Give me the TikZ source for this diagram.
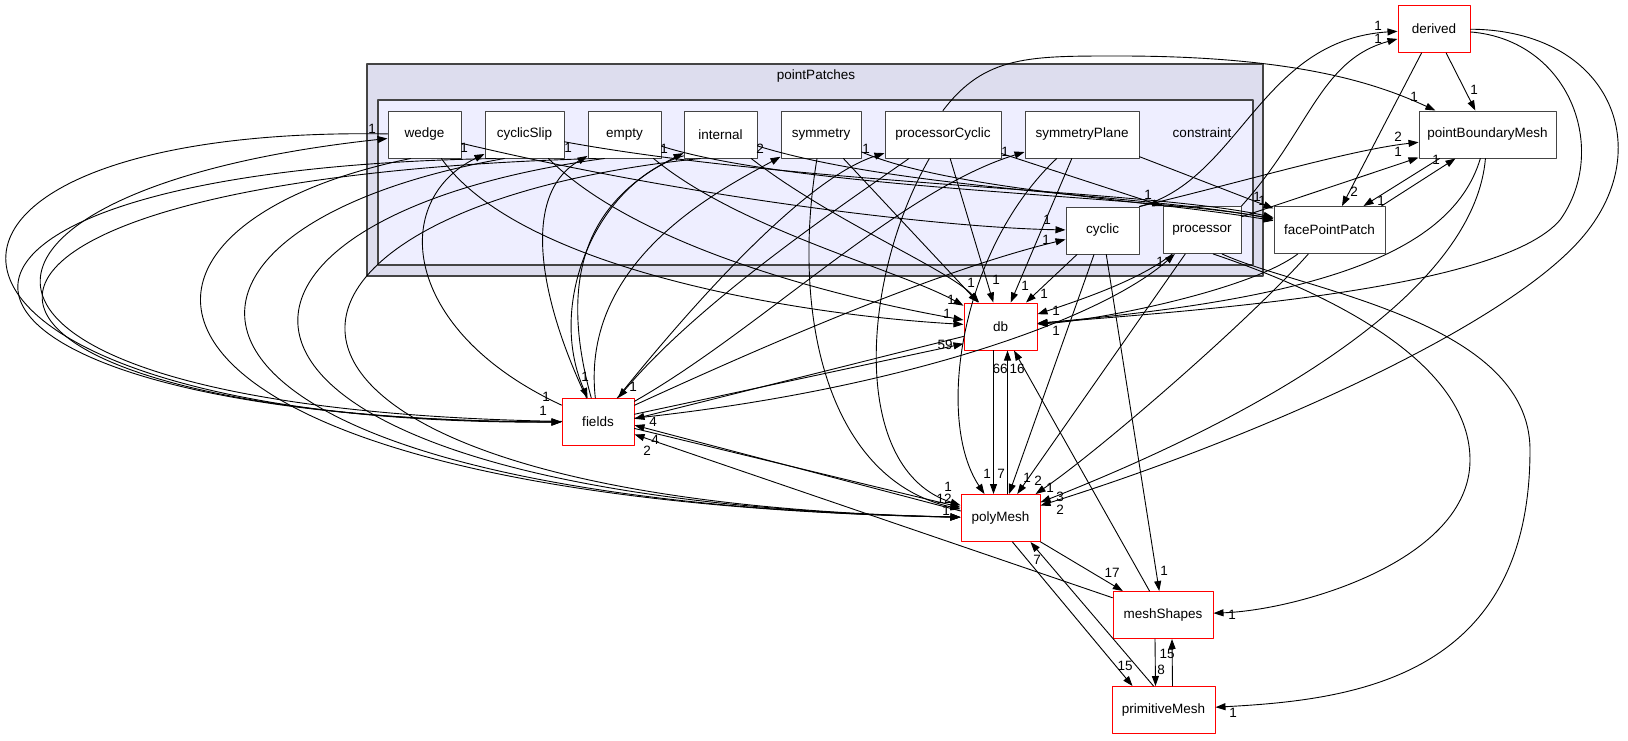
\documentclass[tikz,border=0pt]{standalone}
\usepackage{fontspec}
\setmainfont{Liberation Sans}
\usepackage{tikz}
\usetikzlibrary{arrows.meta}
\definecolor{outerfill}{HTML}{DDDDEE}
\definecolor{innerfill}{HTML}{EEEEFF}
\definecolor{frame}{HTML}{444444}
\newcommand{\dfont}{\fontsize{13.5}{16}\selectfont}
\tikzset{
  dirbox/.style={draw=frame, fill=white, line width=1pt,
    minimum height=47pt, inner sep=0pt, font=\dfont},
  extbox/.style={dirbox, draw=red},
  dep/.style={-{Triangle[length=10pt,width=7pt]}, line width=0.9pt},
  num/.style={font=\dfont, inner sep=0pt}
}

\begin{document}
\begin{tikzpicture}[x=1pt, y=-1pt, line cap=round, line join=round]
  \useasboundingbox (0,0) rectangle (1628,740);

  % clusters
  \draw[draw=frame, fill=outerfill, line width=1.4pt] (367,64) rectangle (1263,276);
  \node[num] (pp) at (816,76) {pointPatches};
  \draw[draw=frame, fill=innerfill, line width=1.2pt] (378,100) rectangle (1253,265);
  \node[num] (cons) at (1202,133) {constraint};

  % directories inside constraint
  \node[dirbox, minimum width=73pt] (wedge) at (424.5,134.5) {wedge};
  \node[dirbox, minimum width=79pt] (cyclicSlip) at (524.5,134.5) {cyclicSlip};
  \node[dirbox, minimum width=73pt] (empty) at (624.5,134.5) {empty};
  \node[dirbox, minimum width=73pt] (internal) at (720.5,134.5) {internal};
  \node[dirbox, minimum width=80pt] (symmetry) at (821,134.5) {symmetry};
  \node[dirbox, minimum width=116pt] (processorCyclic) at (943,134.5) {processorCyclic};
  \node[dirbox, minimum width=114pt] (symmetryPlane) at (1082,134.5) {symmetryPlane};
  \node[dirbox, minimum width=73pt] (cyclic) at (1102.5,230.5) {cyclic};
  \node[dirbox, minimum width=78pt] (processor) at (1202,230) {processor};

  % other directories
  \node[dirbox, minimum width=111pt] (facePointPatch) at (1329.5,230) {facePointPatch};
  \node[dirbox, minimum width=137pt] (pointBoundaryMesh) at (1487.5,134.5) {pointBoundaryMesh};
  \node[extbox, minimum width=72pt] (derived) at (1434,29) {derived};
  \node[extbox, minimum width=72pt] (fields) at (598,422) {fields};
  \node[extbox, minimum width=73pt] (db) at (1000.5,326.5) {db};
  \node[extbox, minimum width=79pt] (polyMesh) at (1000.5,518) {polyMesh};
  \node[extbox, minimum width=100pt] (meshShapes) at (1163,615) {meshShapes};
  \node[extbox, minimum width=103pt] (primitiveMesh) at (1163.5,710) {primitiveMesh};

  % fields -> patches
  \draw[dep] (fields) .. controls (-110,410) and (-90,190) .. (wedge);
  \draw[dep] (fields) .. controls (400,330) and (390,200) .. (cyclicSlip);
  \draw[dep] (fields) .. controls (540,300) and (520,195) .. (empty);
  \draw[dep] (fields) .. controls (550,250) and (610,190) .. (internal);
  \draw[dep] (fields) .. controls (580,260) and (720,190) .. (symmetry);
  \draw[dep] (fields) .. controls (680,320) and (800,180) .. (processorCyclic);
  \draw[dep] (fields) .. controls (760,330) and (900,190) .. (symmetryPlane);
  \draw[dep] (fields) .. controls (820,320) and (960,265) .. (cyclic);
  \draw[dep] (fields) .. controls (900,390) and (1100,320) .. (processor);

  % patches -> fields
  \draw[dep] (wedge) .. controls (-160,125) and (-130,425) .. (fields);
  \draw[dep] (cyclicSlip.-140) .. controls (-170,170) and (-130,420) .. (fields);
  \draw[dep] (empty.-140) .. controls (-160,180) and (-110,420) .. (fields);
  \draw[dep] (internal.-150) .. controls (600,180) and (545,300) .. (fields);
  \draw[dep] (processorCyclic) .. controls (850,200) and (700,300) .. (fields);

  % patches -> db
  \draw[dep] (wedge) .. controls (520,270) and (800,315) .. (db);
  \draw[dep] (cyclicSlip) .. controls (640,250) and (850,300) .. (db);
  \draw[dep] (empty) .. controls (740,230) and (900,270) .. (db);
  \draw[dep] (internal) .. controls (830,220) and (950,270) .. (db);
  \draw[dep] (symmetry) -- (db);
  \draw[dep] (processorCyclic) -- (db);
  \draw[dep] (symmetryPlane) -- (db);
  \draw[dep] (cyclic) -- (db);
  \draw[dep] (processor) .. controls (1140,280) and (1080,300) .. (db);

  % patches -> facePointPatch, cyclic, processor
  \draw[dep] (wedge) .. controls (700,200) and (950,228) .. (cyclic);
  \draw[dep] (cyclicSlip) .. controls (800,185) and (1150,190) .. (facePointPatch);
  \draw[dep] (empty) .. controls (800,190) and (1150,195) .. (facePointPatch);
  \draw[dep] (internal) .. controls (900,190) and (1150,195) .. (facePointPatch);
  \draw[dep] (symmetry) .. controls (950,190) and (1150,200) .. (facePointPatch);
  \draw[dep] (symmetryPlane) -- (facePointPatch);
  \draw[dep] (processorCyclic) -- (processor.north west);

  % patches -> polyMesh
  \draw[dep] (wedge.-120) .. controls (60,230) and (90,500) .. (polyMesh);
  \draw[dep] (cyclicSlip.-130) .. controls (100,230) and (110,500) .. (polyMesh);
  \draw[dep] (empty.-130) .. controls (150,220) and (150,500) .. (polyMesh);
  \draw[dep] (internal.-130) .. controls (200,210) and (180,500) .. (polyMesh);
  \draw[dep] (symmetry) .. controls (790,320) and (830,480) .. (polyMesh);
  \draw[dep] (processorCyclic) .. controls (860,280) and (850,470) .. (polyMesh);
  \draw[dep] (symmetryPlane) .. controls (960,250) and (935,420) .. (polyMesh);
  \draw[dep] (cyclic) -- (polyMesh);
  \draw[dep] (processor) -- (polyMesh);

  % cyclic and processor -> outside
  \draw[dep] (cyclic.north east) .. controls (1240,180) and (1260,40) .. (derived);
  \draw[dep] (processor.north east) .. controls (1310,130) and (1320,60) .. (derived);
  \draw[dep] (cyclic.north east) .. controls (1250,180) and (1350,150) .. (pointBoundaryMesh);
  \draw[dep] (processor) -- (pointBoundaryMesh);
  \draw[dep] (processorCyclic.north) .. controls (985,55) and (1030,56) .. (1120,56)
    .. controls (1300,56) and (1380,85) .. (pointBoundaryMesh);
  \draw[dep] (cyclic) -- (meshShapes);
  \draw[dep] (processor.-65) .. controls (1350,300) and (1470,370) .. (1470,460)
    .. controls (1470,560) and (1300,610) .. (meshShapes);
  \draw[dep] (processor.-50) .. controls (1300,290) and (1530,320) .. (1530,450)
    .. controls (1530,680) and (1350,700) .. (primitiveMesh);

  % derived, pointBoundaryMesh, facePointPatch
  \draw[dep] (derived) -- (pointBoundaryMesh);
  \draw[dep] (derived) -- (facePointPatch);
  \draw[dep] ([xshift=-48pt]pointBoundaryMesh.south) -- ([xshift=34pt]facePointPatch.north);
  \draw[dep] ([xshift=52pt]facePointPatch.north) -- ([xshift=-32pt]pointBoundaryMesh.south);
  \draw[dep] (facePointPatch) .. controls (1250,290) and (1100,320) .. (db);
  \draw[dep] (facePointPatch) .. controls (1250,320) and (1100,450) .. (polyMesh);
  \draw[dep] (pointBoundaryMesh) .. controls (1450,260) and (1300,300) .. (db);
  \draw[dep] (pointBoundaryMesh) .. controls (1475,280) and (1300,400) .. (polyMesh);
  \draw[dep] (derived) .. controls (1570,40) and (1610,150) .. (1560,220)
    .. controls (1500,290) and (1200,310) .. (db);
  \draw[dep] (derived) .. controls (1610,30) and (1660,150) .. (1580,240)
    .. controls (1500,330) and (1250,440) .. (polyMesh);

  % fields, db, polyMesh, meshShapes, primitiveMesh
  \draw[dep] (fields.12) -- (db.205);
  \draw[dep] (db.195) -- (fields.5);
  \draw[dep] (fields.-10) -- (polyMesh.165);
  \draw[dep] (polyMesh.170) -- (fields.-5);
  \draw[dep] ([xshift=-7pt]db.south) -- ([xshift=-7pt]polyMesh.north);
  \draw[dep] ([xshift=7pt]polyMesh.north) -- ([xshift=7pt]db.south);
  \draw[dep] (meshShapes) -- (db);
  \draw[dep] (meshShapes) -- (fields);
  \draw[dep] (polyMesh) -- (meshShapes);
  \draw[dep] ([xshift=12pt]polyMesh.south) -- ([xshift=-31pt]primitiveMesh.north);
  \draw[dep] ([xshift=-10pt]primitiveMesh.north) -- ([xshift=30pt]polyMesh.south);
  \draw[dep] ([xshift=-8pt]meshShapes.south) -- ([xshift=-8pt]primitiveMesh.north);
  \draw[dep] ([xshift=9pt]primitiveMesh.north) -- ([xshift=9pt]meshShapes.south);

  % edge counts
  \node[num] (n1) at (372,129) {1};
  \node[num] (n2) at (464,148) {1};
  \node[num] (n3) at (568,148) {1};
  \node[num] (n4) at (664,149) {1};
  \node[num] (n5) at (760,149) {2};
  \node[num] (n6) at (866,149) {1};
  \node[num] (n7) at (1005,152) {1};
  \node[num] (n8) at (1047,220) {1};
  \node[num] (n9) at (1046,240) {1};
  \node[num] (n10) at (1148,195) {1};
  \node[num] (n11) at (1160,262) {1};
  \node[num] (n12) at (1257,197) {1};
  \node[num] (n13) at (1262,201) {1};
  \node[num] (n14) at (1378,26) {1};
  \node[num] (n15) at (1378,39) {1};
  \node[num] (n16) at (1414,97) {1};
  \node[num] (n17) at (1398,137) {2};
  \node[num] (n18) at (1398,152) {1};
  \node[num] (n19) at (1474,90) {1};
  \node[num] (n20) at (1436,160) {1};
  \node[num] (n21) at (1354,192) {2};
  \node[num] (n22) at (1381,201) {1};
  \node[num] (n23) at (971,283) {1};
  \node[num] (n24) at (996,280) {1};
  \node[num] (n25) at (1025,286) {1};
  \node[num] (n26) at (1044,294) {1};
  \node[num] (n27) at (1056,311) {1};
  \node[num] (n28) at (1056,331) {1};
  \node[num] (n29) at (951,300) {1};
  \node[num] (n30) at (947,314) {1};
  \node[num] (n31) at (945,345) {59};
  \node[num] (n32) at (1000,369) {66};
  \node[num] (n33) at (1017,369) {16};
  \node[num] (n34) at (546,397) {1};
  \node[num] (n35) at (543,411) {1};
  \node[num] (n36) at (585,377) {1};
  \node[num] (n37) at (633,387) {1};
  \node[num] (n38) at (653,422) {4};
  \node[num] (n39) at (655,440) {4};
  \node[num] (n40) at (647,451) {2};
  \node[num] (n41) at (987,474) {1};
  \node[num] (n42) at (1001,474) {7};
  \node[num] (n43) at (1027,478) {1};
  \node[num] (n44) at (1038,481) {2};
  \node[num] (n45) at (1050,488) {1};
  \node[num] (n46) at (1060,497) {3};
  \node[num] (n47) at (1060,510) {2};
  \node[num] (n48) at (948,487) {1};
  \node[num] (n49) at (944,499) {12};
  \node[num] (n50) at (946,511) {1};
  \node[num] (n51) at (1112,573) {17};
  \node[num] (n52) at (1164,571) {1};
  \node[num] (n53) at (1232,615) {1};
  \node[num] (n54) at (1167,654) {15};
  \node[num] (n55) at (1161,670) {8};
  \node[num] (n56) at (1125,666) {15};
  \node[num] (n57) at (1233,713) {1};
  \node[num] (n58) at (1037,560) {7};
\end{tikzpicture}
\end{document}
